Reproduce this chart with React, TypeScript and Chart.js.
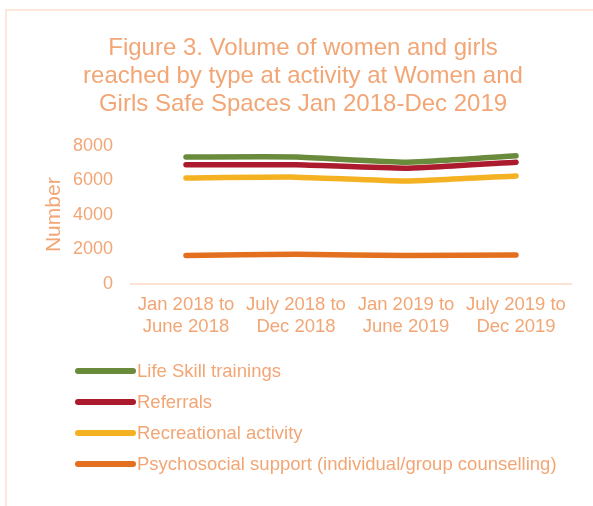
import React, { useEffect, useRef } from "react";
import { Chart, registerables } from "chart.js";

Chart.register(...registerables);

const categories: string[][] = [
  ["Jan 2018 to", "June 2018"],
  ["July 2018 to", "Dec 2018"],
  ["Jan 2019 to", "June 2019"],
  ["July 2019 to", "Dec 2019"],
];
const seriesNames = [
  "Life Skill trainings",
  "Referrals",
  "Recreational activity",
  "Psychosocial support (individual/group counselling)",
];
const lifeSkill = [7350, 7350, 7050, 7420];
const referrals = [6900, 6900, 6700, 7050];
const recreational = [6130, 6180, 5950, 6250];
const psychosocial = [1630, 1700, 1630, 1660];
const titleLines = [
  "Figure 3. Volume of women and girls",
  "reached by type at activity at Women and",
  "Girls Safe Spaces Jan 2018-Dec 2019",
];
const yAxisTitle = "Number";
const yMin = 0;
const yMax = 8000;
const yStep = 2000;

const seriesColors = ["#6A8A3C", "#AB1A2D", "#F4B223", "#E3701F"];
const textColor = "#F2A675";
const axisColor = "#FCE3D3";
const FONT = "'Liberation Sans', Arial, sans-serif";

const verticalLegend = {
  id: "verticalLegend",
  afterDraw(chart: any) {
    const ctx = chart.ctx;
    const x0 = 78;
    const x1 = 133;
    const top = 371;
    const step = 31;
    ctx.save();
    chart.data.datasets.forEach((ds: any, i: number) => {
      const y = top + i * step;
      ctx.beginPath();
      ctx.strokeStyle = ds.borderColor;
      ctx.lineWidth = 6;
      ctx.lineCap = "round";
      ctx.moveTo(x0, y);
      ctx.lineTo(x1, y);
      ctx.stroke();
      ctx.fillStyle = textColor;
      ctx.font = `18.5px ${FONT}`;
      ctx.textAlign = "left";
      ctx.textBaseline = "middle";
      ctx.fillText(ds.label, x1 + 4, y + 1);
    });
    ctx.restore();
  },
};

export default function App() {
  const canvasRef = useRef<HTMLCanvasElement | null>(null);

  useEffect(() => {
    if (!canvasRef.current) return;
    const allSeries = [lifeSkill, referrals, recreational, psychosocial];
    const chart = new Chart(canvasRef.current, {
      type: "line",
      data: {
        labels: categories,
        datasets: allSeries.map((d, i) => ({
          label: seriesNames[i],
          data: d,
          borderColor: seriesColors[i],
          backgroundColor: seriesColors[i],
          borderWidth: 5.5,
          borderCapStyle: "round",
          borderJoinStyle: "round",
          pointRadius: 0,
          tension: 0.15,
          fill: false,
        })),
      },
      options: {
        responsive: false,
        animation: false,
        layout: { padding: { left: 35, right: 22, top: 0, bottom: 158 } },
        plugins: {
          legend: { display: false },
          tooltip: { enabled: false },
          title: {
            display: true,
            text: titleLines,
            color: textColor,
            font: { family: FONT, size: 24, weight: "normal", lineHeight: 1.15 },
            padding: { top: 35, bottom: 28 },
          },
        },
        scales: {
          x: {
            offset: true,
            grid: { display: false, drawTicks: false },
            border: { display: true, color: axisColor, width: 2 },
            ticks: {
              color: textColor,
              font: { family: FONT, size: 18.5, lineHeight: 1.2 },
              padding: 10,
              maxRotation: 0,
              autoSkip: false,
            },
          },
          y: {
            min: yMin,
            max: yMax,
            grid: { display: false, drawTicks: false },
            border: { display: false },
            ticks: {
              stepSize: yStep,
              color: textColor,
              font: { family: FONT, size: 18 },
              padding: 18,
              callback: (v: any) => String(v),
            },
            title: {
              display: true,
              text: yAxisTitle,
              color: textColor,
              font: { family: FONT, size: 21, lineHeight: 1.2 },
              padding: { top: 7, bottom: 0 },
            },
            afterFit(scale: any) {
              scale.width = 96;
            },
          },
        },
      },
      plugins: [verticalLegend],
    });
    return () => chart.destroy();
  }, []);

  return (
    <div
      style={{
        position: "fixed",
        left: 0,
        top: 0,
        width: 593,
        height: 506,
        overflow: "hidden",
        background: "#ffffff",
      }}
    >
      <div
        style={{
          position: "absolute",
          left: 5,
          top: 9,
          width: 620,
          height: 520,
          border: "2px solid #FCE7DA",
          boxSizing: "border-box",
        }}
      />
      <canvas
        ref={canvasRef}
        width={593}
        height={506}
        style={{ position: "absolute", left: 0, top: 0, width: 593, height: 506 }}
      />
    </div>
  );
}
